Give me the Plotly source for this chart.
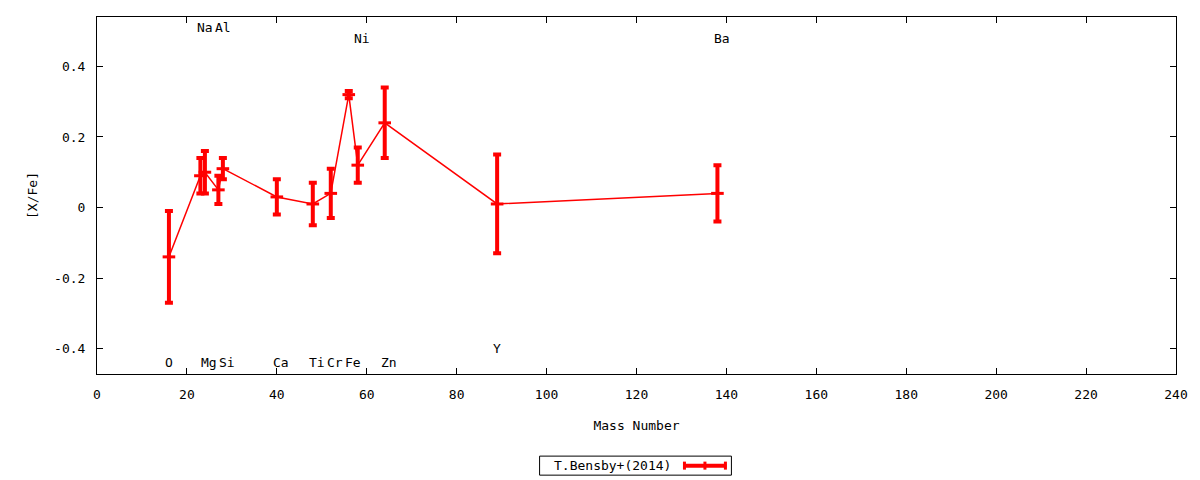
import plotly.graph_objects as go

# Element abundances vs. mass number
elements = ["O", "Na", "Mg", "Al", "Si", "Ca", "Ti", "Cr", "Fe", "Ni", "Zn", "Y", "Ba"]
mass_number = [16, 23, 24, 27, 28, 40, 48, 52, 56, 58, 64, 89, 138]
x_fe = [-0.14, 0.09, 0.10, 0.05, 0.11, 0.03, 0.01, 0.04, 0.32, 0.12, 0.24, 0.01, 0.04]
x_fe_err = [0.13, 0.05, 0.06, 0.04, 0.03, 0.05, 0.06, 0.07, 0.01, 0.05, 0.10, 0.14, 0.08]

# element label heights (in [X/Fe] units)
label_y = [-0.44, 0.51, -0.44, 0.51, -0.44, -0.44, -0.44, -0.44, -0.44, 0.48, -0.44, -0.40, 0.48]

x_ticks = list(range(0, 241, 20))
y_ticks = [-0.4, -0.2, 0, 0.2, 0.4]
y_tick_labels = ["-0.4", "-0.2", "0", "0.2", "0.4"]

series_name = "T.Bensby+(2014)"
RED = "#ff0000"
FONT = "DejaVu Sans Mono"

fig = go.Figure()

fig.add_trace(go.Scatter(
    x=mass_number,
    y=x_fe,
    mode="lines+markers",
    name=series_name,
    line=dict(color=RED, width=1.5),
    marker=dict(symbol="line-ew", size=9, color=RED, line=dict(color=RED, width=3)),
    error_y=dict(type="data", array=x_fe_err, visible=True, color=RED, thickness=4, width=4),
    showlegend=False,
))

# element name labels, left-aligned at the mass number
for name, m, ly in zip(elements, mass_number, label_y):
    fig.add_annotation(
        x=m - 1.3, y=ly, text=name, showarrow=False,
        xanchor="left", yanchor="middle",
        font=dict(family=FONT, size=13, color="black"),
    )

# gnuplot-style key box below the plot: text on the left, sample on the right
def px(x):
    return (x - 97) / 1080

def py(y):
    return (374 - y) / 356.5

fig.add_shape(type="rect", xref="paper", yref="paper",
              x0=px(540), x1=px(732), y0=py(475), y1=py(456),
              line=dict(color="black", width=1), fillcolor="white")
fig.add_annotation(xref="paper", yref="paper", x=px(552), y=py(465.5),
                   text=series_name, showarrow=False, xanchor="left", yanchor="middle",
                   font=dict(family=FONT, size=13, color="black"))
fig.add_shape(type="line", xref="paper", yref="paper",
              x0=px(684), x1=px(727), y0=py(465.5), y1=py(465.5),
              line=dict(color=RED, width=4))
for cx in (685, 705.5, 726):
    fig.add_shape(type="line", xref="paper", yref="paper",
                  x0=px(cx), x1=px(cx), y0=py(461.5), y1=py(469.5),
                  line=dict(color=RED, width=3))

axis_common = dict(
    showline=True, linecolor="black", linewidth=1, mirror="ticks",
    ticks="inside", ticklen=6, tickcolor="black", tickwidth=1,
    showgrid=False, zeroline=False,
    tickfont=dict(family=FONT, size=13, color="black"),
    ticklabelstandoff=8,
)

fig.update_xaxes(
    range=[0, 240], tickvals=x_ticks,
    title=dict(text="Mass Number", font=dict(family=FONT, size=13, color="black"), standoff=20),
    **axis_common,
)
fig.update_yaxes(
    range=[-0.472, 0.54], tickvals=y_ticks, ticktext=y_tick_labels,
    title=dict(text="[X/Fe]", font=dict(family=FONT, size=13, color="black"), standoff=13),
    **axis_common,
)

fig.update_layout(
    width=1200, height=480,
    margin=dict(l=97, r=22, t=17, b=106),
    plot_bgcolor="white", paper_bgcolor="white",
    font=dict(family=FONT, size=13, color="black"),
)

# drop the default page margin so the 1200x480 figure fills the window
fig.write_html("out.html", config={"displayModeBar": False},
               post_script="document.body.style.margin='0';document.body.style.overflow='hidden';")
